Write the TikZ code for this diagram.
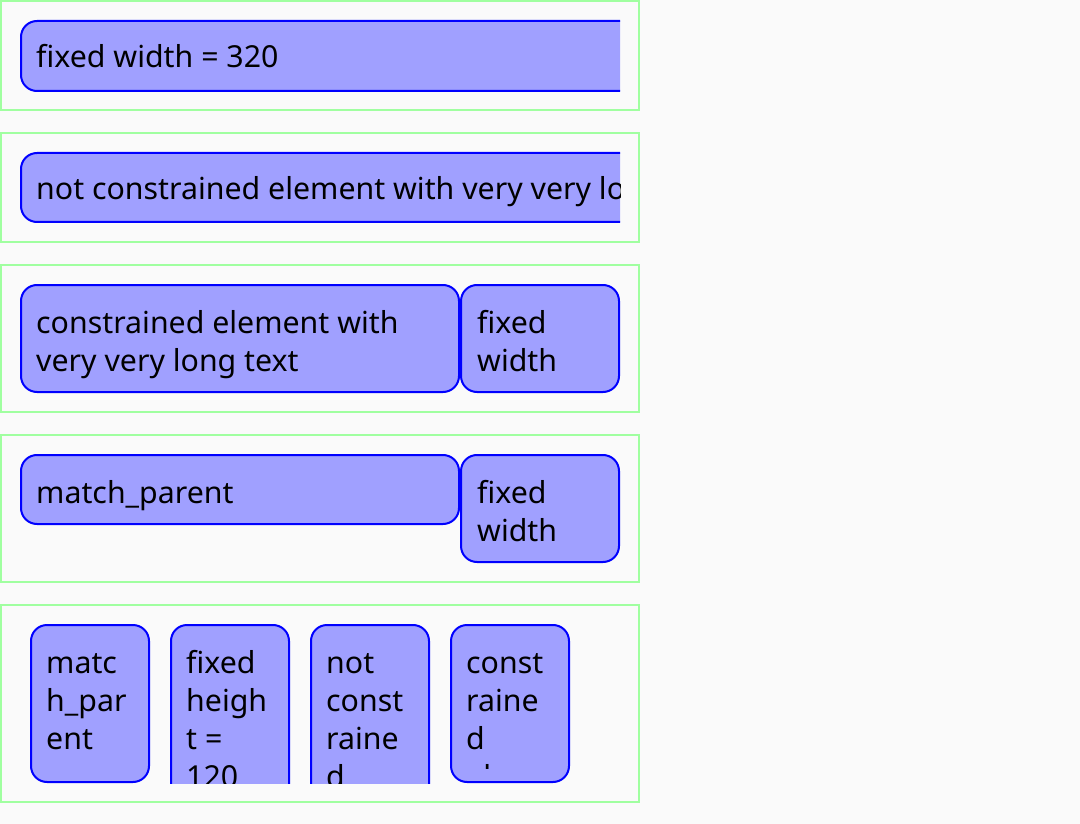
\documentclass[tikz,border=0pt]{standalone}
\usepackage{fontspec}
\setmainfont{Noto Sans}
\definecolor{bgc}{HTML}{FAFAFA}
\definecolor{panelc}{HTML}{A0FFA0}
\definecolor{boxfill}{HTML}{A0A0FF}
\definecolor{boxline}{HTML}{0000FF}
\newcommand{\mylines}[1]{\parbox[t]{420pt}{\raggedright #1}}
\begin{document}
\begin{tikzpicture}[x=1pt,y=-1pt,
  panel/.style={draw=panelc,line width=2pt},
  vbox/.style={draw=boxline,fill=boxfill,line width=2pt,rounded corners=16pt},
  lbl/.style={anchor=base west,inner sep=0pt,font=\fontsize{30.3}{38}\selectfont}]
\fill[bgc] (0,0) rectangle (1080,824);
\useasboundingbox (0,0) rectangle (1080,824);
% panels
\draw[panel] (1,1) rectangle (639,110);
\draw[panel] (1,133) rectangle (639,242);
\draw[panel] (1,265) rectangle (639,412);
\draw[panel] (1,435) rectangle (639,582);
\draw[panel] (1,605) rectangle (639,802);
% panel 1
\begin{scope}
\clip (18,18) rectangle (620,94);
\draw[vbox] (21,21) rectangle (720,91);
\node[lbl] (t1) at (36,68) {fixed width = 320};
\end{scope}
% panel 2
\begin{scope}
\clip (18,150) rectangle (620,226);
\draw[vbox] (21,153) rectangle (720,222);
\node[lbl] (t2) at (36,200) {not constrained element with very very long text};
\end{scope}
% panel 3
\draw[vbox] (21,285) rectangle (459,392);
\node[lbl] (t3a) at (36,333) {\mylines{constrained element with\\very very long text}};
\draw[vbox] (461,285) rectangle (619,392);
\node[lbl] (t3b) at (477,333) {\mylines{fixed\\width}};
% panel 4
\draw[vbox] (21,455) rectangle (459,524);
\node[lbl] (t4a) at (36,503) {match\_parent};
\draw[vbox] (461,455) rectangle (619,562);
\node[lbl] (t4b) at (477,503) {\mylines{fixed\\width}};
% panel 5
\draw[vbox] (31,625) rectangle (149,782);
\node[lbl] (t5a) at (46,673) {\mylines{matc\\h\_par\\ent}};
\begin{scope}
\clip (160,620) rectangle (600,783);
\draw[vbox] (171,625) rectangle (289,840);
\node[lbl] (t5b) at (186,673) {\mylines{fixed\\heigh\\t =\\120}};
\draw[vbox] (311,625) rectangle (429,840);
\node[lbl] (t5c) at (326,673) {\mylines{not\\const\\raine\\d}};
\end{scope}
\draw[vbox] (451,625) rectangle (569,782);
\begin{scope}
\clip (451,627) rectangle (569,768.5);
\node[lbl] (t5d) at (466,673) {\mylines{const\\raine\\d\\eleme}};
\end{scope}
\end{tikzpicture}
\end{document}
